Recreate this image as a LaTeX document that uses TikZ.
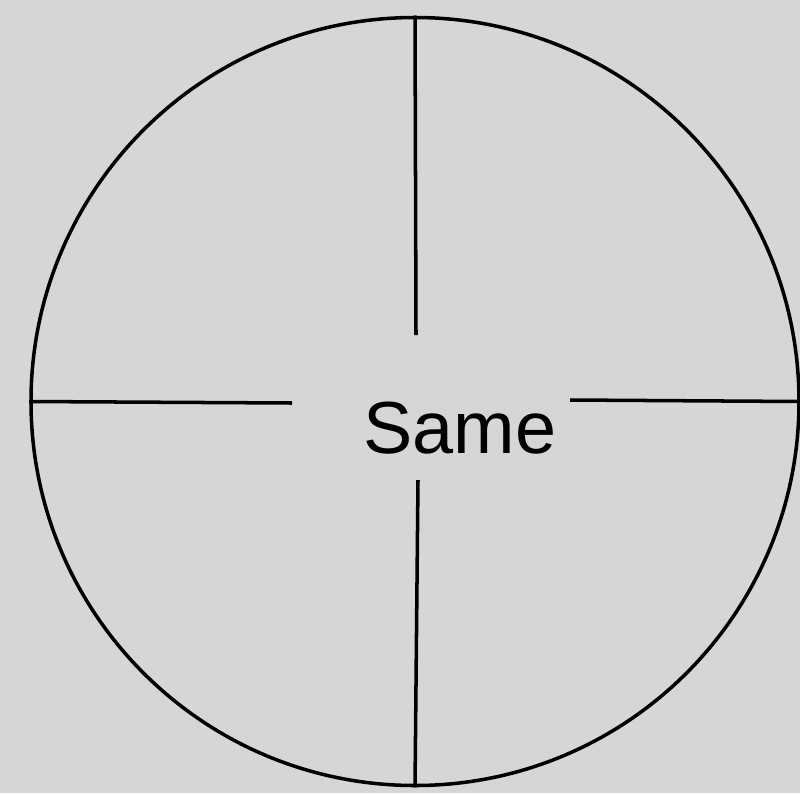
\documentclass[tikz,border=0pt]{standalone}
\usepackage{fontspec}
\setmainfont{Liberation Sans}
\begin{document}
\begin{tikzpicture}[line width=1pt]
  \fill[black!16] (0,0) rectangle (8,7.93);
  \useasboundingbox (0,0) rectangle (8,7.93);
  \node[draw,circle,minimum size=7.68cm,inner sep=0pt,line width=1pt] (dial) at (4.15,3.915) {};
  \node (same) at (4.6,3.65) {\fontsize{21}{24}\selectfont Same};
  \coordinate (topend) at (4.16,4.58);
  \coordinate (botend) at (4.18,3.13);
  \coordinate (leftend) at (2.92,3.90);
  \coordinate (rightend) at (5.70,3.93);
  \draw (dial.north) -- (topend);
  \draw (botend) -- (dial.south);
  \draw (dial.west) -- (leftend);
  \draw (rightend) -- (dial.east);
\end{tikzpicture}
\end{document}
